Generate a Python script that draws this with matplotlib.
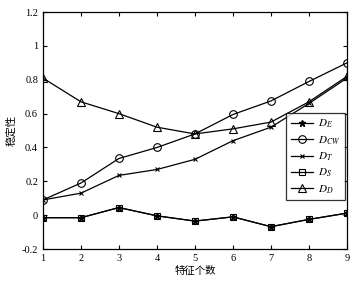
import matplotlib
matplotlib.use("Agg")
import matplotlib.pyplot as plt

x = [1, 2, 3, 4, 5, 6, 7, 8, 9]
D_E = [-0.015, -0.015, 0.045, -0.004, -0.035, -0.01, -0.068, -0.025, 0.012]
D_CW = [0.09, 0.19, 0.335, 0.40, 0.48, 0.595, 0.675, 0.79, 0.90]
D_T = [0.09, 0.13, 0.235, 0.27, 0.33, 0.44, 0.52, 0.66, 0.81]
D_S = [-0.015, -0.015, 0.045, -0.004, -0.035, -0.01, -0.068, -0.025, 0.012]
D_D = [0.81, 0.67, 0.60, 0.52, 0.48, 0.51, 0.55, 0.67, 0.82]
labels = [r"$D_E$", r"$D_{CW}$", r"$D_T$", r"$D_S$", r"$D_D$"]
xlabel = "特征个数"
ylabel = "稳定性"

plt.rcParams['font.family'] = ['Liberation Serif', 'Noto Sans CJK SC']
plt.rcParams['mathtext.fontset'] = 'stix'

fig = plt.figure(figsize=(3.61, 2.82), dpi=100)
ax = fig.add_axes([0.119, 0.117, 0.842, 0.840])

kw = dict(color='black', lw=0.9, mfc='none', mec='black', mew=0.8)
ax.plot(x, D_E, marker='*', ms=4.5, label=labels[0], color='black', lw=0.9, mec='black', mfc='black')
ax.plot(x, D_CW, marker='o', ms=5.5, label=labels[1], **kw)
ax.plot(x, D_T, marker='x', ms=3, label=labels[2], **kw)
ax.plot(x, D_S, marker='s', ms=4.5, label=labels[3], **kw)
ax.plot(x, D_D, marker='^', ms=5.5, label=labels[4], **kw)

ax.set_xlim(1, 9)
ax.set_ylim(-0.2, 1.2)
ax.set_xticks(x)
ax.set_yticks([-0.2, 0, 0.2, 0.4, 0.6, 0.8, 1.0, 1.2])
ax.set_yticklabels(["-0.2", "0", "0.2", "0.4", "0.6", "0.8", "1", "1.2"])
ax.tick_params(direction='in', top=True, right=True, labelsize=7.5, length=3, width=0.8)
for s in ax.spines.values():
    s.set_linewidth(0.9)

ax.set_xlabel(xlabel, family=['Noto Sans CJK SC'], fontsize=7.5, labelpad=2)
ax.set_ylabel(ylabel, family=['Noto Sans CJK SC'], fontsize=7.5, labelpad=4)

leg = ax.legend(loc='upper right', bbox_to_anchor=(0.994, 0.573), borderaxespad=0,
                fontsize=8, frameon=True, fancybox=False, edgecolor='black',
                handlelength=2.0, borderpad=0.4, labelspacing=0.35, handletextpad=0.5)
leg.get_frame().set_linewidth(0.9)

fig.savefig("out.png", dpi=100)
